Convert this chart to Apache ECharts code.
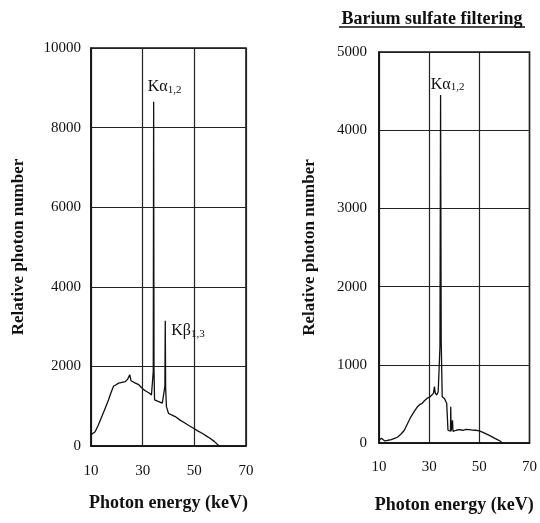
<!DOCTYPE html>
<html><head><meta charset="utf-8">
<script src="https://cdn.jsdelivr.net/npm/echarts@6/dist/echarts.min.js"></script>
<style>html,body{margin:0;padding:0;background:#fff}#c{width:540px;height:523px}</style>
</head><body><div id="c"></div>
<script>
// Left panel: unfiltered spectrum [keV, relative photon number]
const leftSpectrum = [
 [10,280],[10.5,260],[11.6,360],[12.8,520],[14.2,740],[15.5,950],[16.8,1160],[17.8,1350],[18.7,1500],
 [19.7,1540],[20.7,1580],[22,1600],[23.3,1620],[24.2,1680],[25,1790],[25.5,1640],[25.9,1620],[27.2,1580],
 [28.5,1540],[29.5,1470],[30.5,1410],[31.5,1370],[32.5,1330],[33.4,1280],[33.9,1240],[34.1,1870],
 [34.25,8650],[34.4,1880],[34.6,1160],[36,1120],[37.6,1075],[38.3,1030],[38.6,1500],[38.75,3150],
 [38.9,1450],[39.2,990],[40,820],[41.2,780],[42.6,740],[44.5,650],[46.5,570],[48,510],[49.7,445],
 [51.3,380],[53,320],[54.6,255],[56.2,190],[57.8,110],[59.2,25],[60,0]
];
// Right panel: barium sulfate filtering
const rightSpectrum = [
 [10,34],[11,60],[12.3,26],[13.6,35],[14.9,43],[16.2,60],[17.5,77],[18.8,115],[20.1,163],[21.4,250],
 [22.7,335],[24,400],[25.3,463],[26.2,490],[27.2,506],[28.1,540],[29.1,570],[30.4,592],[31.7,635],
 [32.1,720],[32.4,640],[33,613],[33.6,656],[34,978],[34.3,1236],[34.55,4450],[34.8,1300],[35.2,592],
 [36.1,570],[37,506],[37.3,300],[37.5,163],[38,140],[38.5,150],[38.6,463],[38.75,150],[39,140],
 [39.3,290],[39.5,150],[40.8,163],[42,170],[43.4,163],[44.7,175],[46,170],[47.3,165],[48.6,163],
 [50,155],[51.2,140],[52.5,120],[53.8,100],[55.1,78],[56.4,56],[57.4,40],[58.3,26],[59,0]
];
const xTicks = [10,30,50,70];
const leftYMax = 10000, leftYStep = 2000;
const rightYMax = 5000, rightYStep = 1000;
const kaLeft = [34.25, 8650], kbLeft = [38.75, 3150], kaRight = [34.55, 4450];
const titleText = 'Barium sulfate filtering';

const serif = '"Liberation Serif","DejaVu Serif",serif';
const chart = echarts.init(document.getElementById('c'));
function xAxis(gi){
  return {type:'value', gridIndex:gi, min:xTicks[0], max:xTicks[xTicks.length-1], interval:20,
    name:'Photon energy (keV)', nameLocation:'middle', nameGap:gi===0?48:53,
    nameTextStyle:{fontFamily:serif,fontWeight:'bold',fontSize:18,color:'#111'},
    axisLine:{show:true,lineStyle:{color:'#111',width:1.5}}, axisTick:{show:false},
    axisLabel:{fontFamily:serif,fontSize:15,color:'#111',margin:gi===0?18:17},
    splitLine:{show:true,lineStyle:{color:'#222',width:1.2}}};
}
function yAxis(gi,max,step){
  return {type:'value', gridIndex:gi, min:0, max:max, interval:step,
    name:'Relative photon number', nameLocation:'middle', nameGap:gi===0?64:61,
    nameTextStyle:{fontFamily:serif,fontWeight:'bold',fontSize:17,color:'#111'},
    axisLine:{show:true,lineStyle:{color:'#111',width:1.5}}, axisTick:{show:false},
    axisLabel:{fontFamily:serif,fontSize:15,color:'#111',margin:gi===0?10:12,formatter:v=>String(v)},
    splitLine:{show:true,lineStyle:{color:'#222',width:1.2}}};
}
const lineStyle = {color:'#111',width:1.3};
function kLabel(greek, sub){
  return {formatter:'{a|K'+greek+'}{s|'+sub+'}', rich:{
    a:{fontFamily:serif,fontSize:16,color:'#111'},
    s:{fontFamily:serif,fontSize:11,color:'#111',verticalAlign:'bottom',padding:[6,0,0,0]}}};
}
chart.setOption({
  animation:false,
  backgroundColor:'#fff',
  grid:[
    {left:91,right:294,top:48,bottom:77,show:true,borderColor:'#111',borderWidth:1.5},
    {left:379,right:8,top:52,bottom:80,show:true,borderColor:'#111',borderWidth:1.5}
  ],
  xAxis:[xAxis(0),xAxis(1)],
  yAxis:[yAxis(0,leftYMax,leftYStep),yAxis(1,rightYMax,rightYStep)],
  series:[
    {type:'line',xAxisIndex:0,yAxisIndex:0,data:leftSpectrum,showSymbol:false,lineStyle:lineStyle,
     markPoint:{symbol:'circle',symbolSize:0,data:[
       {coord:kaLeft,label:Object.assign({show:true,position:'top',distance:6,offset:[11,0]},kLabel('α','1,2'))},
       {coord:kbLeft,label:Object.assign({show:true,position:'right',offset:[1,10]},kLabel('β','1,3'))}
     ]}},
    {type:'line',xAxisIndex:1,yAxisIndex:1,data:rightSpectrum,showSymbol:false,lineStyle:lineStyle,
     markPoint:{symbol:'circle',symbolSize:0,data:[
       {coord:kaRight,label:Object.assign({show:true,position:'top',distance:2,offset:[7,0]},kLabel('α','1,2'))}
     ]}}
  ],
  graphic:[
    {type:'text',x:432,y:28,style:{text:titleText,fontFamily:serif,fontWeight:'bold',fontSize:18,fill:'#111',
      textAlign:'center',textVerticalAlign:'bottom'}},
    {type:'line',shape:{x1:339,y1:27,x2:525,y2:27},style:{stroke:'#111',lineWidth:1.3}}
  ]
});
</script></body></html>
